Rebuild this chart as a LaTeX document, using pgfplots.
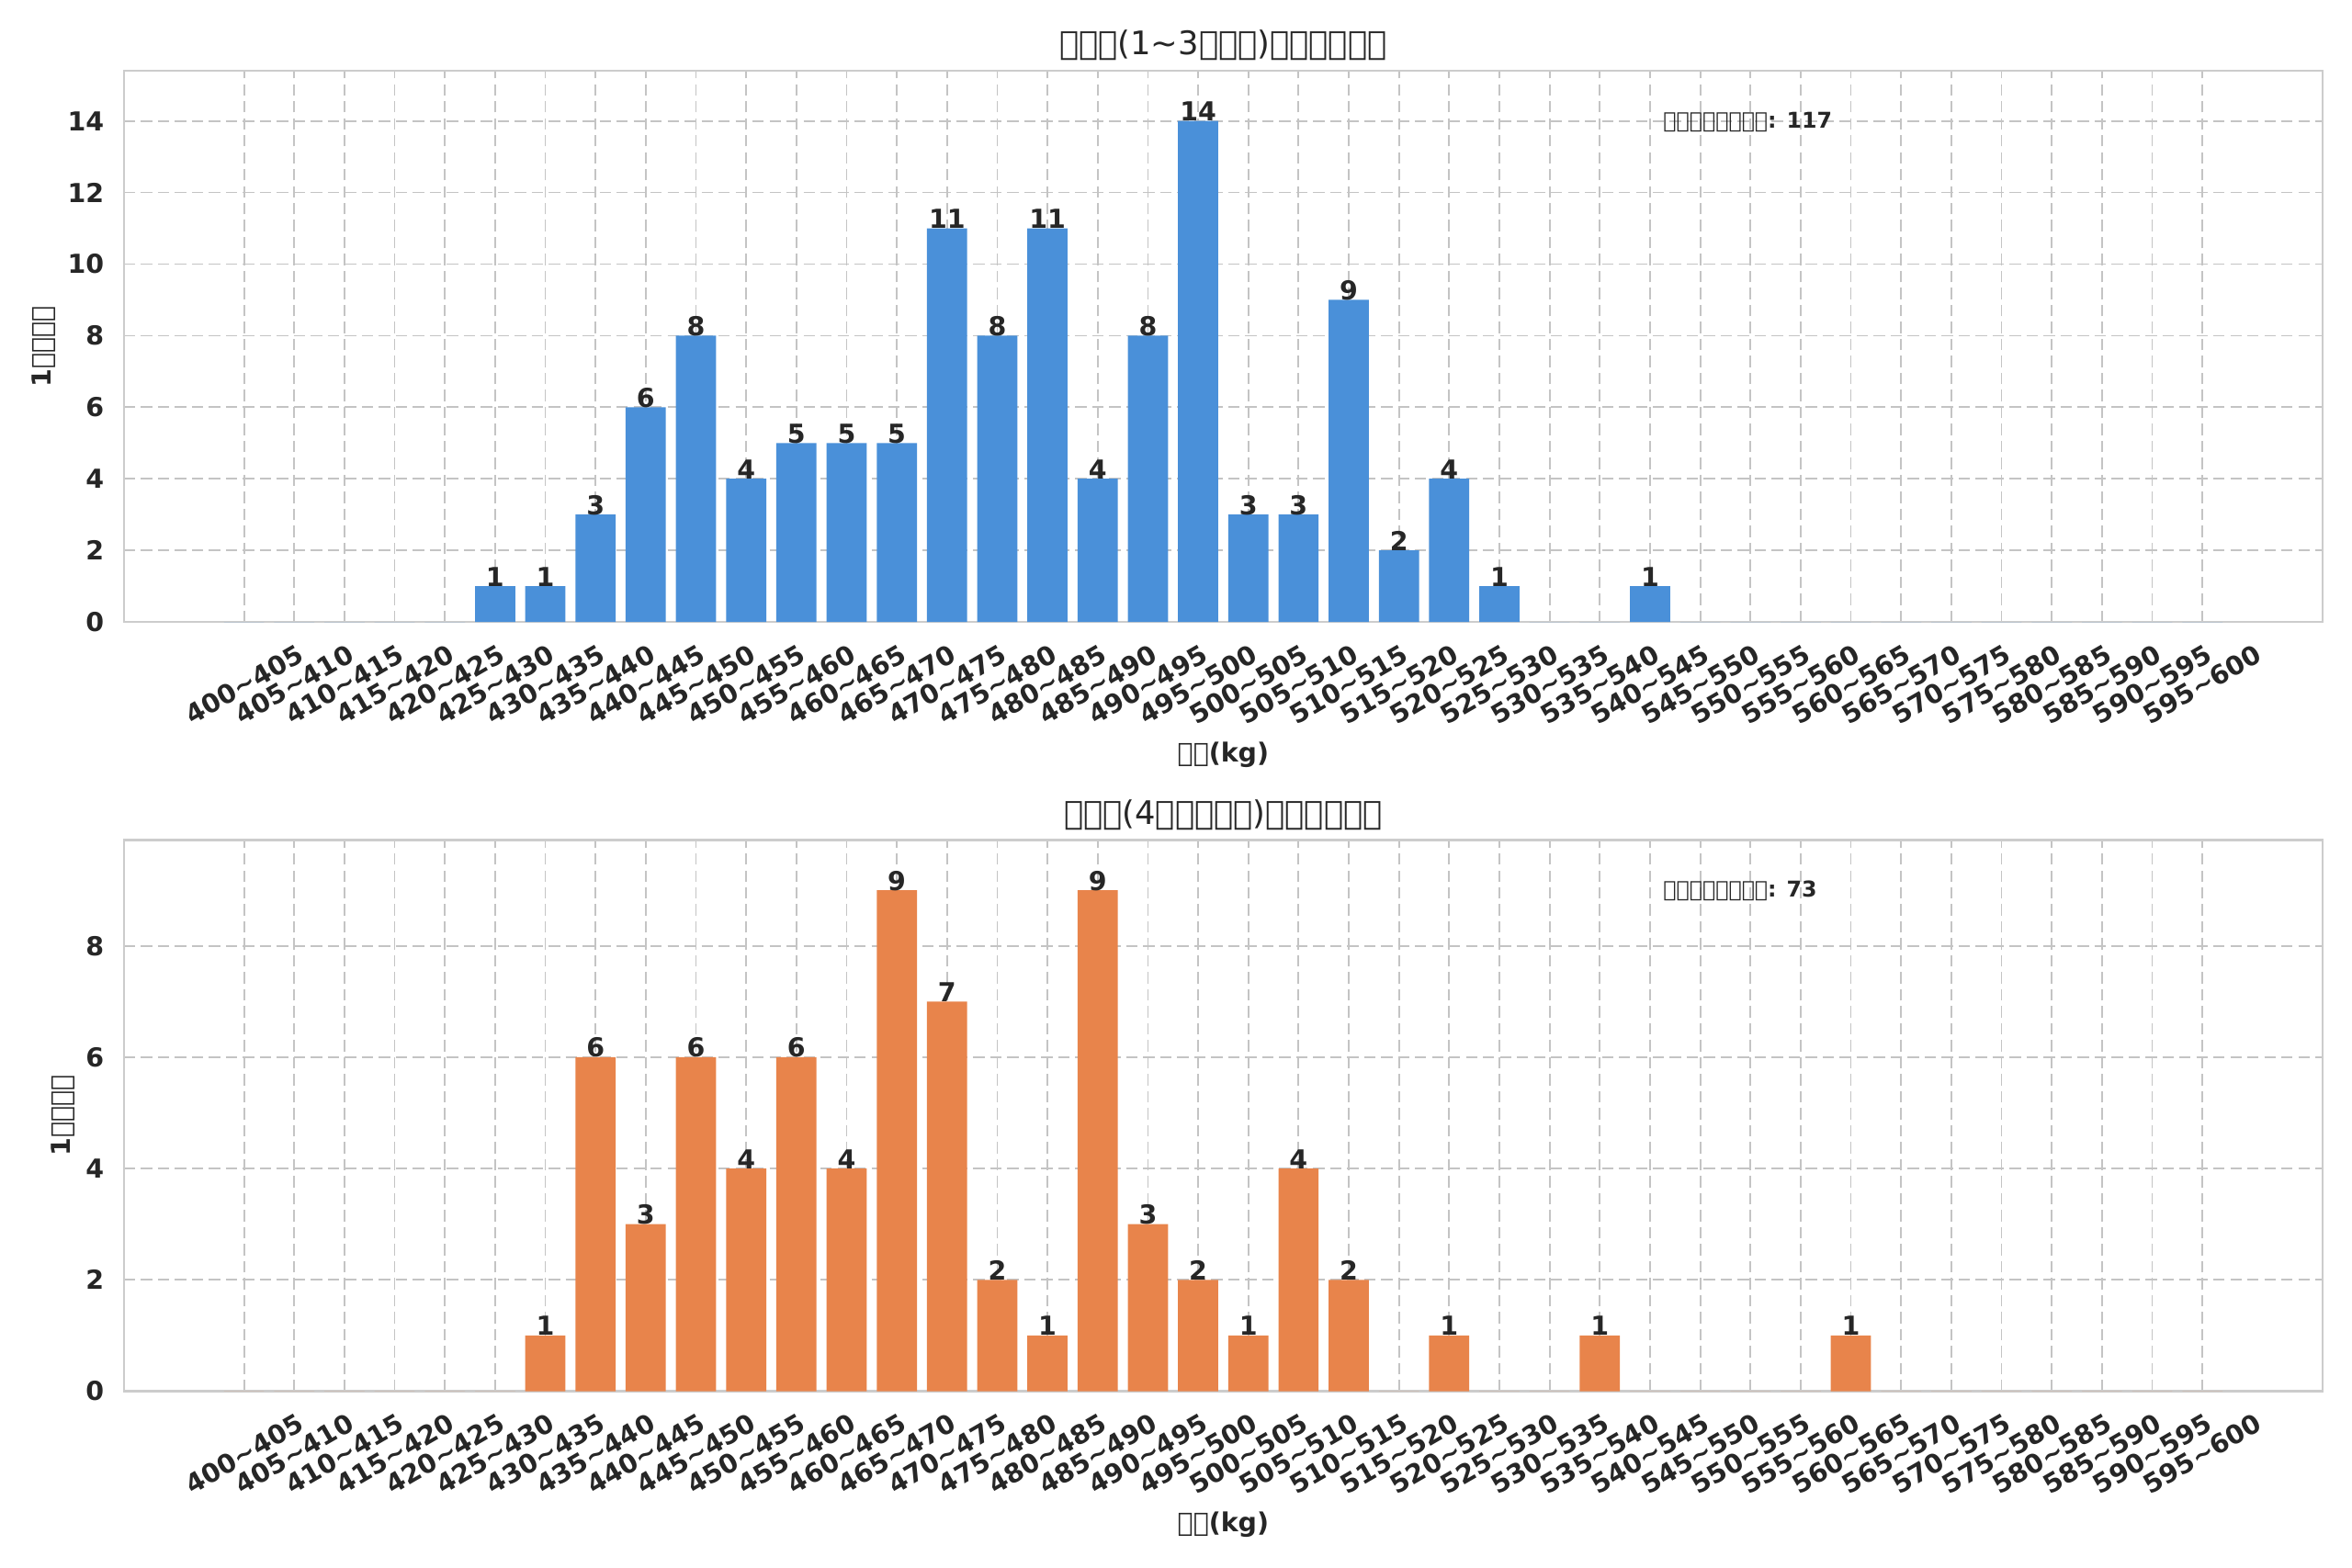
\documentclass[border=0pt]{standalone}
\usepackage{fontspec}
\setmainfont{DejaVu Sans}
\usepackage{pgfplots}
\pgfplotsset{compat=1.18}
\usepackage{pgfplotstable}
\definecolor{tc}{HTML}{262626}
\definecolor{gridc}{HTML}{CCCCCC}
\definecolor{gridd}{HTML}{C4C4C4}
\definecolor{barblue}{HTML}{4A90D9}
\definecolor{barorange}{HTML}{E8844B}
\newcommand\tofu{\XeTeXglyph0\relax}
\newcommand\T{\textasciitilde}

\pgfplotstableread{
idx count
0 0
1 0
2 0
3 0
4 0
5 1
6 1
7 3
8 6
9 8
10 4
11 5
12 5
13 5
14 11
15 8
16 11
17 4
18 8
19 14
20 3
21 3
22 9
23 2
24 4
25 1
26 0
27 0
28 1
29 0
30 0
31 0
32 0
33 0
34 0
35 0
36 0
37 0
38 0
39 0
}\upperdata

\pgfplotstableread{
idx count
0 0
1 0
2 0
3 0
4 0
5 0
6 1
7 6
8 3
9 6
10 4
11 6
12 4
13 9
14 7
15 2
16 1
17 9
18 3
19 2
20 1
21 4
22 2
23 0
24 1
25 0
26 0
27 1
28 0
29 0
30 0
31 0
32 1
33 0
34 0
35 0
36 0
37 0
38 0
39 0
}\lowerdata

\pgfplotsset{
  /pgf/number format/assume math mode=true,
  histstyle/.style={
    scale only axis,
    width=1009.5pt, height=253.1pt,
    xmin=-2.39, xmax=41.39, ymin=0,
    xtick={0,...,39},
    xticklabels={400\T405,405\T410,410\T415,415\T420,420\T425,425\T430,430\T435,435\T440,440\T445,445\T450,450\T455,455\T460,460\T465,465\T470,470\T475,475\T480,480\T485,485\T490,490\T495,495\T500,500\T505,505\T510,510\T515,515\T520,520\T525,525\T530,530\T535,535\T540,540\T545,545\T550,550\T555,555\T560,560\T565,565\T570,570\T575,575\T580,580\T585,585\T590,590\T595,595\T600},
    axis line style={gridc, line width=1pt},
    major tick length=0pt,
    grid=major,
    major grid style={gridd, dash pattern=on 5.2pt off 2.6pt, line width=0.75pt},
    tick label style={font=\bfseries\fontsize{12}{14}\selectfont, text=tc},
    xticklabel style={rotate=30, anchor=center, xshift=-14.35pt, yshift=-24.85pt},
    yticklabel style={anchor=east, xshift=-5.7pt},
    xlabel style={at={(axis description cs:0.5,-0.2418)}, anchor=center, font=\bfseries\fontsize{12}{14}\selectfont, text=tc},
    ylabel style={anchor=center, font=\bfseries\fontsize{12}{14}\selectfont, text=tc},
    title style={at={(axis description cs:0.5,1)}, anchor=base, yshift=1.4pt, font=\fontsize{14.9}{17}\selectfont, text=tc},
    ybar, bar width=0.8,
    nodes near coords={\pgfmathfloatifflags{\pgfplotspointmeta}{0}{}{\pgfmathprintnumber{\pgfplotspointmeta}}},
    every node near coord/.append style={font=\bfseries\fontsize{12}{14}\selectfont, text=tc, anchor=base, inner sep=0pt, yshift=0pt},
  }
}

\begin{document}
\begin{tikzpicture}
\begin{axis}[histstyle,
  at={(56.95pt,434.5pt)}, anchor=south west,
  ymax=15.4, ytick={0,2,...,14},
  title={\tofu\tofu\tofu(1\T3\tofu\tofu\tofu)\tofu\tofu\tofu\tofu\tofu\tofu},
  xlabel={\tofu\tofu(kg)},
  ylabel={1\tofu\tofu\tofu\tofu},
  ylabel style={at={(axis description cs:-0.03636,0.5)}},
]
\addplot[fill=barblue, draw=none] table[x=idx, y=count] {\upperdata};
\node[anchor=base west, inner sep=0pt, font=\bfseries\fontsize{10}{12}\selectfont, text=tc] at (axis description cs:0.7,0.896) {\tofu\tofu\tofu\tofu\tofu\tofu\tofu\tofu: 117};
\end{axis}
\begin{axis}[histstyle,
  at={(56.95pt,81.2pt)}, anchor=south west,
  ymax=9.9, ytick={0,2,...,8},
  title={\tofu\tofu\tofu(4\tofu\tofu\tofu\tofu\tofu)\tofu\tofu\tofu\tofu\tofu\tofu},
  xlabel={\tofu\tofu(kg)},
  ylabel={1\tofu\tofu\tofu\tofu},
  ylabel style={at={(axis description cs:-0.02784,0.5)}},
]
\addplot[fill=barorange, draw=none] table[x=idx, y=count] {\lowerdata};
\node[anchor=base west, inner sep=0pt, font=\bfseries\fontsize{10}{12}\selectfont, text=tc] at (axis description cs:0.7,0.896) {\tofu\tofu\tofu\tofu\tofu\tofu\tofu\tofu: 73};
\end{axis}
\pgfresetboundingbox
\path[use as bounding box] (0,0) rectangle (1080pt,720.14pt);
\end{tikzpicture}
\end{document}
